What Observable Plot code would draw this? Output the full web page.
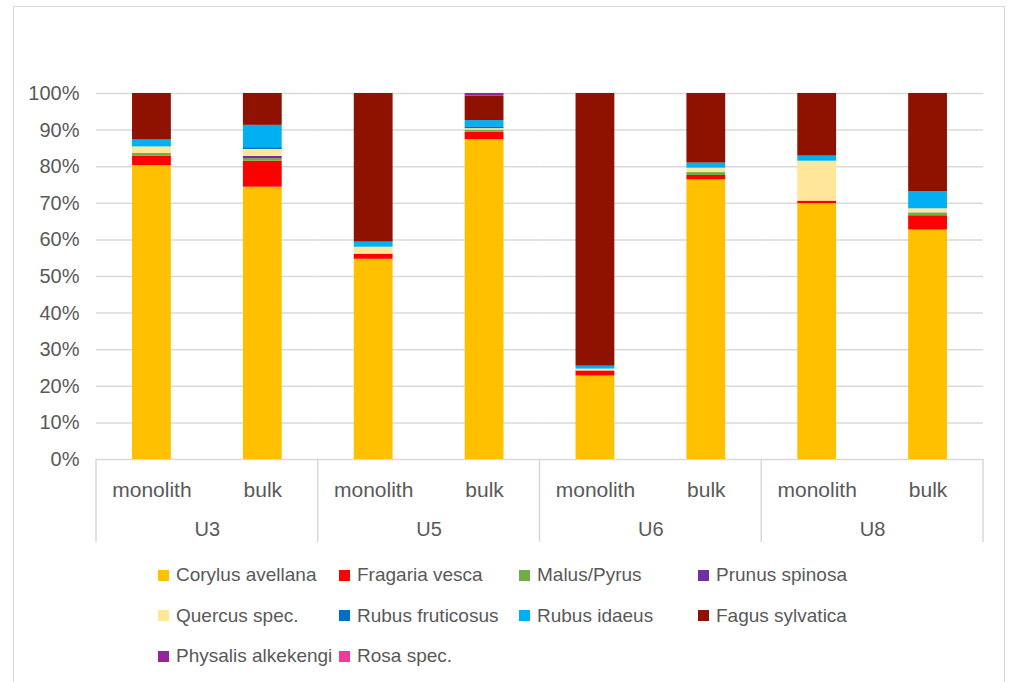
<!DOCTYPE html>
<html><head><meta charset="utf-8">
<script src="https://cdn.jsdelivr.net/npm/d3@7"></script>
<script src="https://cdn.jsdelivr.net/npm/@observablehq/plot@0.6"></script>
<style>
body{margin:0;overflow:hidden;background:#fff;font-family:"Liberation Sans",Arial,sans-serif;}
#wrap{position:relative;width:1013px;height:682px;overflow:hidden;}
#border{position:absolute;left:13px;top:6px;width:990px;height:700px;border:1.5px solid #d9d9d9;}
#chart{position:absolute;left:0;top:0;}
#legend{position:absolute;left:158px;top:555px;display:grid;grid-template-columns:181px 180px 179px auto;grid-auto-rows:40.5px;font-size:19px;color:#595959;}
.item{display:flex;align-items:center;white-space:nowrap;}
.sw{width:11px;height:11px;margin-right:7px;flex:none;}
</style></head><body>
<div id="wrap"><div id="border"></div><div id="chart"></div><div id="legend"></div></div>
<script>
const groups = ["U3","U3","U5","U5","U6","U6","U8","U8"];
const samples = ["monolith","bulk","monolith","bulk","monolith","bulk","monolith","bulk"];
const groupOrder = ["U3","U5","U6","U8"];
const sampleOrder = ["monolith","bulk"];
const species = ["Corylus avellana","Fragaria vesca","Malus/Pyrus","Prunus spinosa","Quercus spec.","Rubus fruticosus","Rubus idaeus","Fagus sylvatica","Physalis alkekengi","Rosa spec."];
const colors = ["#FFC000","#FF0000","#70AD47","#7030A0","#FFE699","#0070C0","#00B0F0","#8F1100","#96239A","#F0399A"];
const corylus   = [80.3, 74.4, 54.7, 87.4, 22.8, 76.4, 69.9, 62.7];
const fragaria  = [2.6, 7.1, 1.4, 2.0, 1.4, 1.2, 0.7, 3.9];
const malus     = [0.7, 0.7, 0, 0.6, 0, 0.8, 0, 0.8];
const prunus    = [0, 0.6, 0, 0, 0, 0, 0, 0];
const quercus   = [1.8, 1.9, 1.9, 0.4, 0.5, 1.2, 10.9, 1.1];
const rubusFrut = [0, 0.5, 0, 0.5, 0, 0, 0, 0];
const rubusId   = [1.9, 6.1, 1.4, 1.7, 0.8, 1.4, 1.4, 4.7];
const fagus     = [12.7, 8.7, 40.6, 6.7, 74.5, 19.0, 17.1, 26.8];
const physalis  = [0, 0, 0, 0.7, 0, 0, 0, 0];
const rosa      = [0, 0, 0, 0, 0, 0, 0, 0];
const yTicks = [0,10,20,30,40,50,60,70,80,90,100];

const series = [corylus, fragaria, malus, prunus, quercus, rubusFrut, rubusId, fagus, physalis, rosa];
const rows = [];
series.forEach((vals, si) => vals.forEach((v, i) => rows.push({group: groups[i], sample: samples[i], species: species[si], value: v})));

const font = "Liberation Sans, Arial, sans-serif";
const plot = Plot.plot({
  width: 1013, height: 550,
  marginLeft: 96, marginRight: 30, marginTop: 93, marginBottom: 91,
  style: {fontFamily: font, fontSize: "20px", color: "#595959", background: "transparent"},
  fx: {domain: groupOrder, padding: 0, round: false, label: null},
  x: {domain: sampleOrder, paddingInner: 0.65, paddingOuter: 0.325, round: false, label: null},
  y: {domain: [0, 100], label: null},
  color: {domain: species, range: colors},
  marks: [
    Plot.gridY(yTicks, {stroke: "#d9d9d9", strokeOpacity: 1, strokeWidth: 1.5}),
    Plot.barY(rows, {fx: "group", x: "sample", y: "value", fill: "species", order: species}),
    Plot.axisY(yTicks, {tickSize: 0, tickPadding: 17, tickFormat: d => d + "%", fontSize: 20, fill: "#595959", label: null}),
    Plot.axisX({tickSize: 0, tickPadding: 23, fontSize: 21, fill: "#595959", label: null}),
    Plot.axisFx({anchor: "bottom", tickSize: 0, tickPadding: 62, fontSize: 20, fill: "#595959", label: null})
  ]
});
document.getElementById("chart").appendChild(plot);

// category separators on the multi-level axis
const fx = plot.scale("fx"), y = plot.scale("y");
const edges = groupOrder.map(g => fx.apply(g));
edges.push(fx.apply(groupOrder[groupOrder.length - 1]) + fx.bandwidth);
const y0 = y.apply(0);
d3.select(plot).append("g").selectAll("line").data(edges).join("line")
  .attr("x1", d => d).attr("x2", d => d)
  .attr("y1", y0).attr("y2", y0 + 83)
  .attr("stroke", "#d9d9d9").attr("stroke-width", 1.5);

// legend
const legend = d3.select("#legend");
species.forEach((s, i) => {
  const it = legend.append("div").attr("class", "item");
  it.append("div").attr("class", "sw").style("background", colors[i]);
  it.append("span").text(s);
});
</script>
</body></html>
